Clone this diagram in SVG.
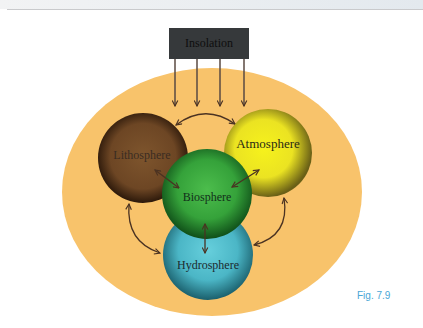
<svg xmlns="http://www.w3.org/2000/svg" width="423" height="328" viewBox="0 0 423 328">
  <defs>
    <linearGradient id="topbar" x1="0" y1="0" x2="1" y2="0">
      <stop offset="0" stop-color="#f2f3f4"/>
      <stop offset="1" stop-color="#e3e9ee"/>
    </linearGradient>
    <radialGradient id="gLitho" cx="50%" cy="48%" r="52%">
      <stop offset="0" stop-color="#7e552d"/>
      <stop offset="0.7" stop-color="#6d4624"/>
      <stop offset="1" stop-color="#2b180a"/>
    </radialGradient>
    <radialGradient id="gAtmo" cx="45%" cy="45%" r="55%">
      <stop offset="0" stop-color="#f6f21c"/>
      <stop offset="0.6" stop-color="#ebe322"/>
      <stop offset="1" stop-color="#6a6016"/>
    </radialGradient>
    <radialGradient id="gBio" cx="50%" cy="45%" r="55%">
      <stop offset="0" stop-color="#4cbd4c"/>
      <stop offset="0.6" stop-color="#35a23a"/>
      <stop offset="1" stop-color="#0f4e18"/>
    </radialGradient>
    <radialGradient id="gHydro" cx="50%" cy="45%" r="55%">
      <stop offset="0" stop-color="#66cfdc"/>
      <stop offset="0.6" stop-color="#4bb6c6"/>
      <stop offset="1" stop-color="#1a5f6c"/>
    </radialGradient>
    <marker id="head" viewBox="0 0 10 10" refX="9" refY="5" markerWidth="7" markerHeight="7" markerUnits="userSpaceOnUse" orient="auto-start-reverse">
      <path d="M1,1 L9,5 L1,9" fill="none" stroke="#4a3222" stroke-width="1.6"/>
    </marker>
  </defs>
  <style>
    .lbl { font-family: "Liberation Serif", "Times New Roman", serif; text-anchor: middle; }
    .link { fill: none; stroke: #4a3222; stroke-width: 1.3; marker-end: url(#head); marker-start: url(#head); }
    .sun { fill: none; stroke: #5a4a42; stroke-width: 1.5; marker-end: url(#head); }
  </style>

  <!-- page header strip -->
  <rect x="0" y="0" width="423" height="9" fill="url(#topbar)"/>
  <line x1="7" y1="9.5" x2="423" y2="9.5" stroke="#c9cacc" stroke-width="1"/>

  <!-- orange backdrop -->
  <ellipse cx="212" cy="192" rx="150" ry="124" fill="#f8c36b"/>

  <g id="insolation">
    <rect x="169" y="28" width="80" height="31" fill="#36393b"/>
    <text class="lbl" x="209" y="47" font-size="12" fill="#0e0e0e">Insolation</text>
  </g>

  <g id="lithosphere">
    <circle cx="143" cy="158" r="45" fill="url(#gLitho)"/>
    <text class="lbl" x="142" y="159" font-size="12" fill="#3a2c22">Lithosphere</text>
  </g>

  <g id="atmosphere">
    <circle cx="268" cy="153" r="44" fill="url(#gAtmo)"/>
    <text class="lbl" x="268" y="148" font-size="13" fill="#2a2a14">Atmosphere</text>
  </g>

  <g id="hydrosphere">
    <circle cx="208" cy="255" r="45" fill="url(#gHydro)"/>
    <text class="lbl" x="208" y="269" font-size="12" fill="#1c2a2e">Hydrosphere</text>
  </g>

  <g id="biosphere">
    <circle cx="207" cy="194" r="45" fill="url(#gBio)"/>
    <text class="lbl" x="207" y="201" font-size="12" fill="#12301a">Biosphere</text>
  </g>

  <g id="connectors">
    <!-- insolation rays -->
    <line class="sun" x1="175" y1="59" x2="175" y2="106"/>
    <line class="sun" x1="197" y1="59" x2="197" y2="106"/>
    <line class="sun" x1="220" y1="59" x2="220" y2="106"/>
    <line class="sun" x1="244" y1="59" x2="244" y2="106"/>
    <!-- sphere exchanges -->
    <path class="link" d="M176,125 Q205,103 235,124"/>
    <path class="link" d="M155,170 L179,188"/>
    <path class="link" d="M259,170 L232,187"/>
    <path class="link" d="M205,224 L205,253"/>
    <path class="link" d="M129,204 Q126,242 160,253"/>
    <path class="link" d="M284,198 Q290,236 254,245"/>
  </g>

  <text x="357" y="299" font-family="Liberation Sans, Arial, sans-serif" font-size="10" fill="#4aa6d6">Fig. 7.9</text>
</svg>
